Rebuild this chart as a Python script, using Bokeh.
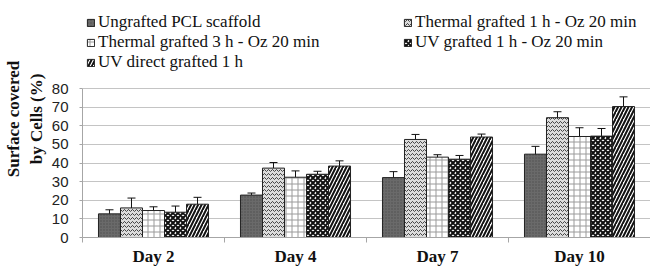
from bokeh.plotting import figure
from bokeh.models import (ColumnDataSource, Range1d, FixedTicker, Whisker, TeeHead,
                          Legend, LegendItem)
from bokeh.embed import file_html
from bokeh.resources import INLINE

# ---- data ----
days = ["Day 2", "Day 4", "Day 7", "Day 10"]
series = ["Ungrafted PCL scaffold", "Thermal grafted 1 h - Oz 20 min",
          "Thermal grafted 3 h - Oz 20 min", "UV grafted 1 h - Oz 20 min",
          "UV direct grafted 1 h"]
ungrafted = [12.7, 22.8, 32.2, 44.8]
ungrafted_err = [2.2, 1.1, 3.2, 4.2]
thermal_1h = [15.9, 37.3, 52.7, 64.4]
thermal_1h_err = [5.3, 3.0, 2.7, 3.2]
thermal_3h = [14.5, 32.4, 43.2, 54.3]
thermal_3h_err = [2.0, 3.4, 1.3, 4.7]
uv_1h = [13.6, 34.0, 42.1, 54.5]
uv_1h_err = [3.3, 1.6, 2.0, 4.1]
uv_direct = [17.9, 38.4, 54.0, 70.4]
uv_direct_err = [3.7, 2.8, 1.6, 5.2]
y_ticks = [0, 10, 20, 30, 40, 50, 60, 70, 80]

values = [ungrafted, thermal_1h, thermal_3h, uv_1h, uv_direct]
errors = [ungrafted_err, thermal_1h_err, thermal_3h_err, uv_1h_err, uv_direct_err]

styles = [
    dict(fill_color="#6a6a6a", hatch_pattern="dot", hatch_color="#4d4d4d", hatch_scale=3, hatch_weight=1),
    dict(fill_color="#dcdcdc", hatch_pattern="horizontal_wave", hatch_color="#444444", hatch_scale=4, hatch_weight=1),
    dict(fill_color="white", hatch_pattern="cross", hatch_color="#9a9a9a", hatch_scale=6, hatch_weight=1),
    dict(fill_color="white", hatch_pattern="diagonal_cross", hatch_color="#111111", hatch_scale=5, hatch_weight=2),
    dict(fill_color="white", hatch_pattern="right_diagonal_line", hatch_color="#111111", hatch_scale=7, hatch_weight=2),
]

bar_w = 0.155
centers = [i + 1 for i in range(len(days))]

p = figure(width=650, height=268, x_range=Range1d(0.5, 4.5), y_range=Range1d(0, 127.4),
           output_backend="svg", toolbar_location=None,
           min_border_left=82, min_border_right=0, min_border_top=0, min_border_bottom=0)
p.outline_line_color = None
p.background_fill_color = "white"
p.xgrid.visible = False

items = []
for k, (name, vals, errs, st) in enumerate(zip(series, values, errors, styles)):
    off = (k - 2) * bar_w
    src = ColumnDataSource(dict(
        x=[c + off for c in centers],
        top=vals,
        upper=[v + e for v, e in zip(vals, errs)],
        lower=[v - e for v, e in zip(vals, errs)],
    ))
    r = p.vbar(x="x", top="top", width=bar_w, source=src, line_color="#222222", line_width=1, **st)
    p.add_layout(Whisker(source=src, base="x", upper="upper", lower="lower",
                         line_color="#111111", line_width=1,
                         upper_head=TeeHead(size=8, line_color="#111111", line_width=1),
                         lower_head=TeeHead(size=8, line_color="#111111", line_width=1)))
    items.append(LegendItem(label=name, renderers=[r]))

# y axis
p.yaxis.ticker = FixedTicker(ticks=y_ticks)
p.yaxis.bounds = (0, 80)
p.yaxis.axis_line_color = "#a6a6a6"
p.yaxis.major_tick_line_color = "#a6a6a6"
p.yaxis.major_tick_out = 3
p.yaxis.major_tick_in = 0
p.yaxis.minor_tick_line_color = None
p.yaxis.major_label_standoff = 11
p.yaxis.major_label_text_font = "Liberation Sans"
p.yaxis.major_label_text_font_size = "15px"
p.yaxis.major_label_text_color = "#222222"
p.yaxis.axis_label = "Surface covered\nby Cells (%)"
p.yaxis.axis_label_text_font = "Liberation Serif"
p.yaxis.axis_label_text_font_style = "bold"
p.yaxis.axis_label_text_font_size = "17px"
p.yaxis.axis_label_text_color = "#111111"
p.yaxis.axis_label_standoff = 3

p.ygrid.grid_line_color = "#c4c4c4"
p.ygrid.grid_line_width = 1

# x axis
p.xaxis.ticker = FixedTicker(ticks=centers, minor_ticks=[c - 0.5 for c in centers] + [centers[-1] + 0.5])
p.xaxis.major_label_overrides = {c: d for c, d in zip(centers, days)}
p.xaxis.axis_line_color = "#a6a6a6"
p.xaxis.major_tick_out = 0
p.xaxis.major_tick_in = 0
p.xaxis.minor_tick_out = 5
p.xaxis.minor_tick_in = 0
p.xaxis.minor_tick_line_color = "#a6a6a6"
p.xaxis.major_label_standoff = 4
p.xaxis.major_label_text_font = "Liberation Serif"
p.xaxis.major_label_text_font_style = "bold"
p.xaxis.major_label_text_font_size = "17px"
p.xaxis.major_label_text_color = "#111111"

legend = Legend(items=items, location=(4, 165), orientation="horizontal", ncols=2,
                glyph_width=9, glyph_height=9, label_standoff=3, label_width=305,
                label_height=19, spacing=0, padding=0, margin=0,
                border_line_color=None, background_fill_alpha=0,
                label_text_font="Liberation Serif", label_text_font_size="17px",
                label_text_color="#111111")
p.add_layout(legend)

open("out.html", "w").write(file_html(p, INLINE))
